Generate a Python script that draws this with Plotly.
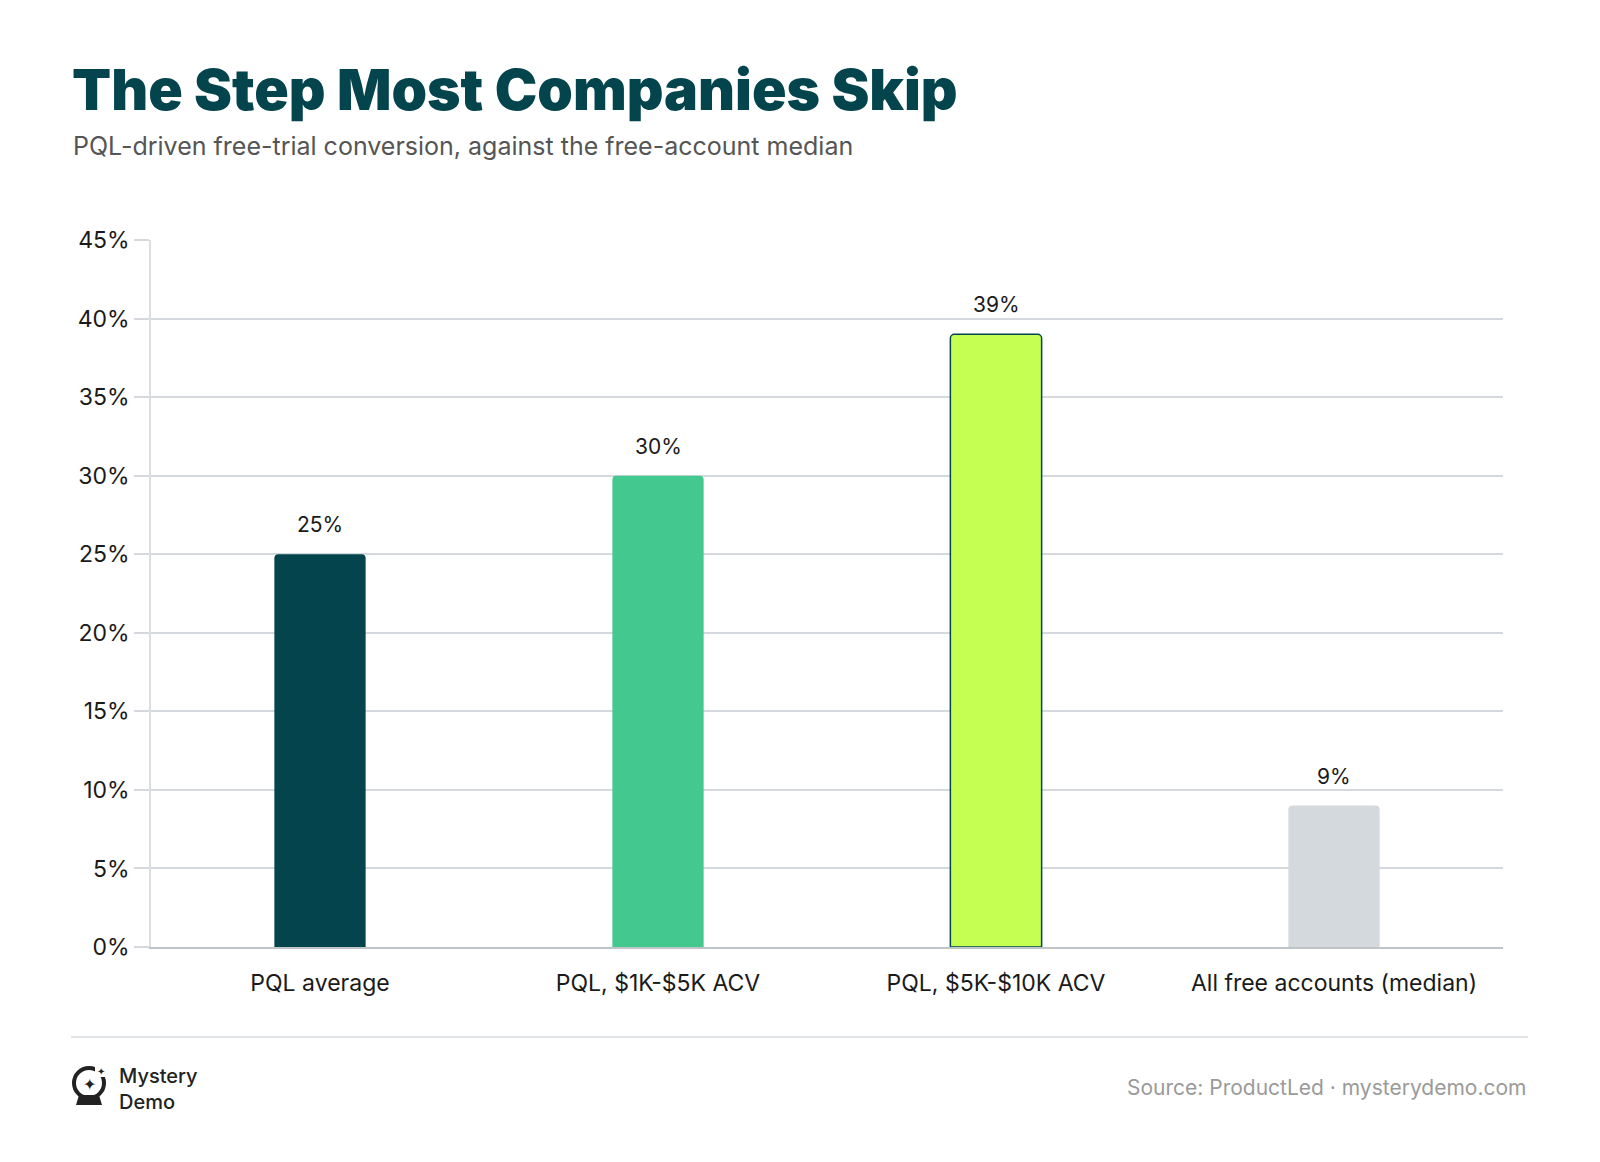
import plotly.graph_objects as go

categories = ["PQL average", "PQL, $1K-$5K ACV", "PQL, $5K-$10K ACV", "All free accounts (median)"]
values = [25, 30, 39, 9]
value_labels = ["25%", "30%", "39%", "9%"]
bar_colors = ["#04454D", "#43C890", "#C5FF52", "#D4D9DD"]
outline_widths = [0, 0, 1.5, 0]
y_ticks = [0, 5, 10, 15, 20, 25, 30, 35, 40, 45]
y_tick_labels = [f"{t}%" for t in y_ticks]

W, H = 1600, 1162
ML, MR, MT, MB = 151, 97, 240, 215
PW, PH = W - ML - MR, H - MT - MB


def px(x):
    return (x - ML) / PW


def py(y):
    return (H - MB - y) / PH


FONT = "Inter, Roboto, sans-serif"

fig = go.Figure()
fig.add_trace(go.Bar(
    x=categories, y=values, width=0.27,
    marker=dict(color=bar_colors, line=dict(color="#04454D", width=outline_widths), cornerradius=4),
    hoverinfo="skip", showlegend=False,
))

for c, v, lab in zip(categories, values, value_labels):
    fig.add_annotation(x=c, y=v, text=lab, showarrow=False, yanchor="bottom", yshift=15,
                       font=dict(family=FONT, size=21, color="#1a1a1a"))

# Title & subtitle
fig.add_annotation(xref="paper", yref="paper", x=px(70), y=py(89), xanchor="left", yanchor="middle",
                   text="The Step Most Companies Skip", showarrow=False,
                   font=dict(family="Inter", size=57, color="#04454D", weight=900))
fig.add_annotation(xref="paper", yref="paper", x=px(71), y=py(146), xanchor="left", yanchor="middle",
                   text="PQL-driven free-trial conversion, against the free-account median", showarrow=False,
                   font=dict(family=FONT, size=25, color="#555555"))

# Footer rule
fig.add_shape(type="line", xref="paper", yref="paper", x0=px(71), x1=px(1528), y0=py(1037), y1=py(1037),
              line=dict(color="#D9DCDF", width=1.5))

# Source
fig.add_annotation(xref="paper", yref="paper", x=px(1528), y=py(1087), xanchor="right", yanchor="middle",
                   text="Source: ProductLed · mysterydemo.com", showarrow=False,
                   font=dict(family=FONT, size=21, color="#9A9A9A"))

# Logo icon
cx, cy, r = 89, 1083, 15
fig.add_shape(type="circle", xref="paper", yref="paper",
              x0=px(cx - r), x1=px(cx + r), y0=py(cy + r), y1=py(cy - r),
              line=dict(color="#222222", width=4), fillcolor="rgba(0,0,0,0)")
fig.add_shape(type="rect", xref="paper", yref="paper",
              x0=px(cx + 6), x1=px(cx + 19), y0=py(cy - 6), y1=py(cy - 19),
              line=dict(width=0), fillcolor="white")
fig.add_shape(type="path", xref="paper", yref="paper",
              path=(f"M {px(cx - 10)},{py(cy + 12)} L {px(cx + 10)},{py(cy + 12)} "
                    f"L {px(cx + 13)},{py(cy + 22)} L {px(cx - 13)},{py(cy + 22)} Z"),
              fillcolor="#222222", line=dict(color="#222222", width=0))
fig.add_annotation(xref="paper", yref="paper", x=px(cx), y=py(cy + 1), xanchor="center", yanchor="middle",
                   text="✦", showarrow=False, font=dict(family="DejaVu Sans", size=16, color="#222222"))
fig.add_annotation(xref="paper", yref="paper", x=px(cx + 12), y=py(cy - 12), xanchor="center", yanchor="middle",
                   text="✦", showarrow=False, font=dict(family="DejaVu Sans", size=10, color="#222222"))
fig.add_annotation(xref="paper", yref="paper", x=px(117), y=py(1089), xanchor="left", yanchor="middle",
                   text="Mystery<br>Demo", showarrow=False, align="left",
                   font=dict(family=FONT, size=20, color="#222222", weight=500))

fig.update_layout(
    width=W, height=H,
    margin=dict(l=ML, r=MR, t=MT, b=MB, pad=0),
    paper_bgcolor="white", plot_bgcolor="white",
    font=dict(family=FONT),
    xaxis=dict(showgrid=False, showline=True, linecolor="#BFC4C8", linewidth=2,
               ticks="", ticklabelstandoff=14,
               tickfont=dict(family=FONT, size=23, color="#1a1a1a"), fixedrange=True),
    yaxis=dict(range=[0, 45], tickvals=y_ticks, ticktext=y_tick_labels,
               showgrid=True, gridcolor="#D5D9DD", gridwidth=1.5, zeroline=False,
               showline=True, linecolor="#DCDFE2", linewidth=1.5,
               ticks="outside", ticklen=15, tickcolor="#D5D9DD", tickwidth=1.5,
               tickfont=dict(family=FONT, size=23, color="#1a1a1a"), fixedrange=True),
)

fig.write_html("out.html")
